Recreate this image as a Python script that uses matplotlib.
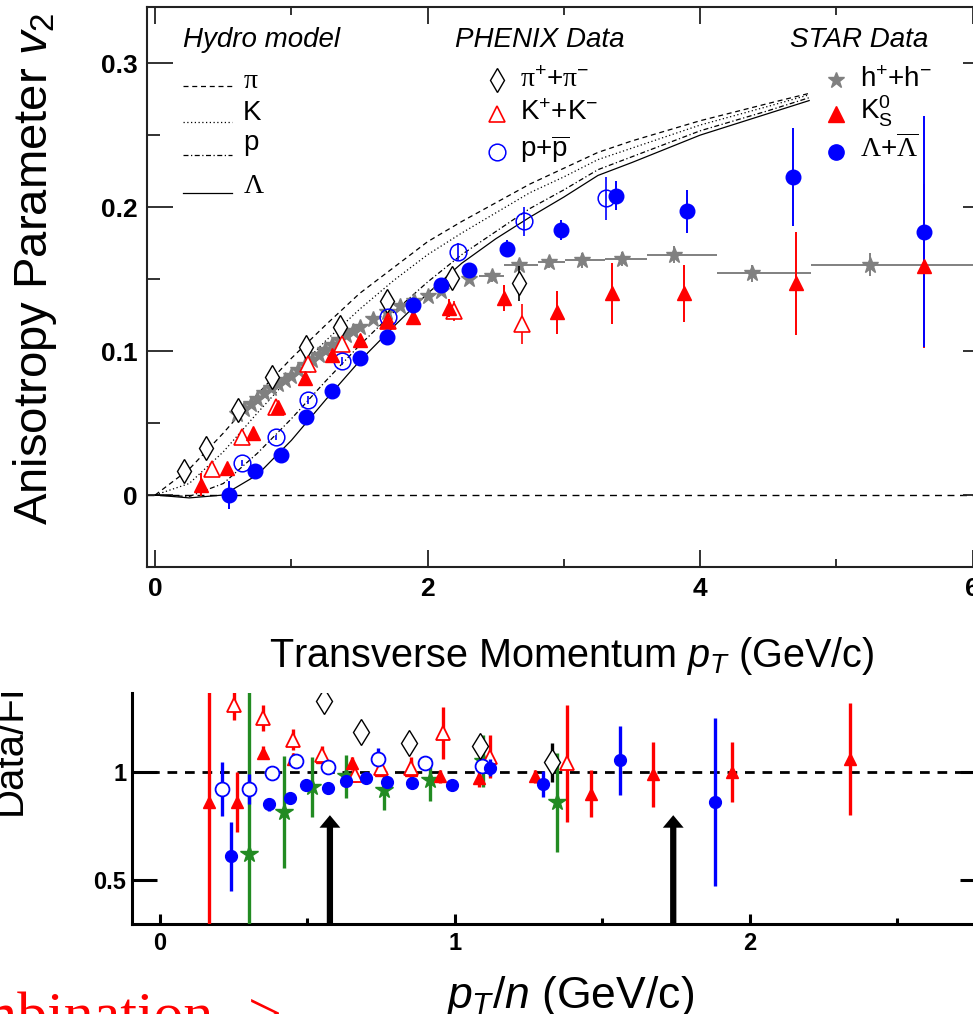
import matplotlib
matplotlib.use('Agg')
import matplotlib.pyplot as plt
from matplotlib.lines import Line2D
from matplotlib.ticker import MultipleLocator
from matplotlib.transforms import Bbox, TransformedBbox

plt.rcParams['font.family'] = ['Liberation Sans', 'DejaVu Sans']
plt.rcParams['mathtext.fontset'] = 'custom'
plt.rcParams['mathtext.rm'] = 'Liberation Sans'
plt.rcParams['mathtext.it'] = 'Liberation Sans:italic'
plt.rcParams['mathtext.bf'] = 'Liberation Sans:bold'
plt.rcParams['mathtext.sf'] = 'Liberation Serif'

# ---- hydro model curves (v2 vs pT)
hydro_pt  = [0, 0.25, 0.5, 0.75, 1.0, 1.25, 1.5, 1.75, 2.0, 2.25, 2.5, 2.75, 3.0, 3.25, 3.5, 4.0, 4.5, 4.8]
hydro_pi  = [0, 0.018, 0.043, 0.070, 0.095, 0.118, 0.140, 0.158, 0.176, 0.190, 0.203, 0.216, 0.227, 0.238, 0.246, 0.260, 0.272, 0.279]
hydro_k   = [0, 0.008, 0.030, 0.057, 0.083, 0.107, 0.129, 0.149, 0.167, 0.182, 0.196, 0.210, 0.221, 0.233, 0.241, 0.257, 0.270, 0.278]
hydro_p   = [0, -0.001, 0.008, 0.029, 0.053, 0.079, 0.104, 0.127, 0.148, 0.167, 0.183, 0.199, 0.212, 0.226, 0.235, 0.253, 0.267, 0.276]
hydro_lam = [0, -0.002, 0.0, 0.014, 0.038, 0.066, 0.093, 0.117, 0.140, 0.161, 0.178, 0.193, 0.207, 0.222, 0.231, 0.250, 0.265, 0.274]

# ---- PHENIX data
phx_pi_pt  = [0.21, 0.37, 0.61, 0.86, 1.11, 1.36, 1.70, 2.18, 2.67]
phx_pi_v2  = [0.017, 0.033, 0.059, 0.082, 0.103, 0.117, 0.135, 0.151, 0.147]
phx_pi_err = [0.002, 0.002, 0.002, 0.002, 0.003, 0.003, 0.003, 0.005, 0.012]

phx_k_pt  = [0.42, 0.64, 0.89, 1.12, 1.37, 1.71, 2.19, 2.69]
phx_k_v2  = [0.018, 0.040, 0.061, 0.091, 0.105, 0.121, 0.128, 0.119]
phx_k_err = [0.002, 0.002, 0.003, 0.003, 0.003, 0.004, 0.007, 0.014]

phx_p_pt  = [0.64, 0.89, 1.12, 1.37, 1.71, 2.22, 2.71, 3.31]
phx_p_v2  = [0.022, 0.040, 0.066, 0.093, 0.124, 0.169, 0.190, 0.206]
phx_p_err = [0.002, 0.002, 0.003, 0.003, 0.004, 0.006, 0.010, 0.015]

# ---- STAR data
star_h_pt  = [0.60, 0.65, 0.70, 0.75, 0.80, 0.85, 0.90, 0.95, 1.00, 1.05, 1.10, 1.15, 1.20, 1.25, 1.30,
              1.35, 1.40, 1.45, 1.50, 1.60, 1.70, 1.80, 1.90, 2.00, 2.10, 2.30]
star_h_v2  = [0.056, 0.060, 0.063, 0.067, 0.071, 0.074, 0.077, 0.080, 0.083, 0.087, 0.090, 0.094, 0.097, 0.101, 0.104,
              0.108, 0.111, 0.114, 0.117, 0.122, 0.127, 0.131, 0.135, 0.138, 0.142, 0.150]
star_hb_pt  = [2.47, 2.67, 2.89, 3.13, 3.43, 3.81, 4.38, 5.25]
star_hb_v2  = [0.152, 0.160, 0.162, 0.163, 0.164, 0.167, 0.154, 0.160]
star_hb_lo  = [2.38, 2.56, 2.81, 3.01, 3.30, 3.61, 4.12, 4.81]
star_hb_hi  = [2.56, 2.81, 3.01, 3.30, 3.61, 4.12, 4.81, 6.30]
star_hb_err = [0.004, 0.004, 0.004, 0.005, 0.005, 0.006, 0.006, 0.008]

star_k0_pt  = [0.34, 0.53, 0.72, 0.90, 1.10, 1.30, 1.50, 1.70, 1.89, 2.16, 2.56, 2.95, 3.35, 3.88, 4.70, 5.64]
star_k0_v2  = [0.007, 0.019, 0.043, 0.061, 0.081, 0.097, 0.108, 0.121, 0.124, 0.130, 0.137, 0.127, 0.140, 0.140, 0.147, 0.159]
star_k0_err = [0.008, 0.003, 0.003, 0.003, 0.003, 0.003, 0.003, 0.003, 0.004, 0.006, 0.009, 0.015, 0.021, 0.020, 0.036, 0.057]

star_lam_pt  = [0.54, 0.73, 0.92, 1.11, 1.30, 1.50, 1.70, 1.89, 2.10, 2.30, 2.58, 2.98, 3.38, 3.90, 4.68, 5.64]
star_lam_v2  = [0.000, 0.017, 0.028, 0.054, 0.072, 0.095, 0.110, 0.132, 0.146, 0.156, 0.171, 0.184, 0.208, 0.197, 0.221, 0.183]
star_lam_err = [0.010, 0.003, 0.003, 0.003, 0.003, 0.003, 0.003, 0.004, 0.004, 0.005, 0.006, 0.007, 0.010, 0.015, 0.034, 0.080]

# ---- Data/Fit vs pT/n (lower panel)
r_k0_x   = [0.166, 0.26, 0.35, 0.45, 0.55, 0.65, 0.75, 0.85, 0.95, 1.08, 1.27, 1.46, 1.67, 1.94, 2.34]
r_k0_y   = [0.86, 0.86, 1.09, 1.06, 1.07, 1.04, 1.01, 1.01, 0.98, 0.97, 0.98, 0.90, 0.99, 1.00, 1.06]
r_k0_err = [0.80, 0.14, 0.03, 0.03, 0.03, 0.03, 0.03, 0.04, 0.03, 0.04, 0.03, 0.11, 0.15, 0.14, 0.26]

r_k_x   = [0.25, 0.35, 0.45, 0.55, 0.66, 0.75, 0.85, 0.96, 1.12, 1.38]
r_k_y   = [1.31, 1.25, 1.15, 1.08, 0.985, 1.02, 1.02, 1.18, 1.07, 1.04]
r_k_err = [0.07, 0.06, 0.05, 0.04, 0.03, 0.04, 0.05, 0.12, 0.10, 0.27]

r_p_x   = [0.21, 0.30, 0.38, 0.46, 0.57, 0.74, 0.90, 1.09]
r_p_y   = [0.92, 0.92, 0.995, 1.05, 1.025, 1.06, 1.04, 1.03]
r_p_err = [0.125, 0.07, 0.02, 0.02, 0.02, 0.05, 0.03, 0.03]

r_lam_x   = [0.24, 0.37, 0.44, 0.495, 0.57, 0.63, 0.70, 0.77, 0.855, 0.99, 1.12, 1.30, 1.56, 1.88]
r_lam_y   = [0.61, 0.85, 0.88, 0.94, 0.925, 0.96, 0.97, 0.955, 0.95, 0.94, 1.02, 0.945, 1.055, 0.86]
r_lam_err = [0.16, 0.03, 0.02, 0.02, 0.02, 0.02, 0.02, 0.02, 0.02, 0.02, 0.04, 0.06, 0.16, 0.39]

r_pi_x   = [0.555, 0.68, 0.845, 1.085, 1.33]
r_pi_y   = [1.33, 1.185, 1.135, 1.12, 1.045]
r_pi_err = [0.0, 0.0, 0.0, 0.0, 0.09]

r_xi_x   = [0.30, 0.42, 0.515, 0.63, 0.76, 0.915, 1.095, 1.345]
r_xi_y   = [0.62, 0.815, 0.93, 0.98, 0.915, 0.965, 1.05, 0.86]
r_xi_err = [0.80, 0.26, 0.14, 0.10, 0.09, 0.10, 0.12, 0.23]

arrow_x = [0.576, 1.74]

RED = '#ff0000'
BLUE = '#0000ff'
GRAY = '#808080'
GREEN = '#228b22'

W, H = 973, 1014
def fx(x):
    return x / W
def fy(y):
    return 1 - y / H

fig = plt.figure(figsize=(W / 100, H / 100), dpi=100)

# ================= top panel
ax1 = fig.add_axes([fx(147), fy(567), (989 - 147) / W, (567 - 7) / H])
ax1.set_xlim(-0.06, 6.12)
ax1.set_ylim(-0.05, 0.339)

ax1.axhline(0, color='k', lw=1, dashes=(5, 4), zorder=1)
ax1.plot(hydro_pt, hydro_pi, color='k', lw=0.9, dashes=(4, 3))
ax1.plot(hydro_pt, hydro_k, color='k', lw=0.9, dashes=(1, 2))
ax1.plot(hydro_pt, hydro_p, color='k', lw=0.9, dashes=(4, 2, 1, 2))
ax1.plot(hydro_pt, hydro_lam, color='k', lw=0.9)

ax1.errorbar(star_h_pt, star_h_v2, fmt='*', ms=12, color=GRAY, mec=GRAY, zorder=3)
ax1.errorbar(star_hb_pt, star_hb_v2,
             xerr=[[c - l for c, l in zip(star_hb_pt, star_hb_lo)], [h - c for c, h in zip(star_hb_pt, star_hb_hi)]],
             yerr=star_hb_err, fmt='*', ms=12, color=GRAY, elinewidth=1.4, capsize=0, zorder=3)
ax1.errorbar(phx_pi_pt, phx_pi_v2, yerr=phx_pi_err, fmt='d', ms=12, mfc='white', mec='k', mew=1,
             ecolor='k', elinewidth=1.2, capsize=0, zorder=4)
ax1.errorbar(phx_k_pt, phx_k_v2, yerr=phx_k_err, fmt='^', ms=11, mfc='white', mec=RED, mew=1.2,
             ecolor=RED, elinewidth=1.2, capsize=0, zorder=4)
ax1.errorbar(phx_p_pt, phx_p_v2, yerr=phx_p_err, fmt='o', ms=12, mfc='none', mec=BLUE, mew=1.1,
             ecolor=BLUE, elinewidth=1.2, capsize=0, zorder=4)
ax1.errorbar(star_k0_pt, star_k0_v2, yerr=star_k0_err, fmt='^', ms=10, color=RED,
             elinewidth=1.4, capsize=0, zorder=5)
ax1.errorbar(star_lam_pt, star_lam_v2, yerr=star_lam_err, fmt='o', ms=10.5, color=BLUE,
             elinewidth=1.4, capsize=0, zorder=5)

ax1.set_xticks([0, 2, 4, 6])
ax1.xaxis.set_minor_locator(MultipleLocator(1))
ax1.set_yticks([0, 0.1, 0.2, 0.3])
ax1.set_yticklabels(['0', '0.1', '0.2', '0.3'])
ax1.yaxis.set_minor_locator(MultipleLocator(0.05))
ax1.tick_params(which='both', direction='in', top=True, right=True, width=1.3, color='#222222')
ax1.tick_params(axis='x', which='major', length=12, pad=7)
ax1.tick_params(axis='x', which='minor', length=6)
ax1.tick_params(axis='y', which='major', length=19, pad=7)
ax1.tick_params(axis='y', which='minor', length=9)
for lab in ax1.get_xticklabels() + ax1.get_yticklabels():
    lab.set_fontsize(19)
    lab.set_fontweight('bold')
for sp in ax1.spines.values():
    sp.set_linewidth(1.5)
    sp.set_color('#222222')

fig.text(fx(47), fy(269), 'Anisotropy Parameter $v_2$', rotation=90, rotation_mode='anchor',
         ha='center', va='baseline', fontsize=34)
fig.text(fx(572), fy(667), 'Transverse Momentum $p_T$ (GeV/c)', ha='center', va='baseline',
         fontsize=28.5)

# legend block
fig.text(fx(183), fy(47), 'Hydro model', style='italic', fontsize=20, va='baseline')
fig.text(fx(455), fy(47), 'PHENIX Data', style='italic', fontsize=20, va='baseline')
fig.text(fx(790), fy(47), 'STAR Data', style='italic', fontsize=20, va='baseline')

hydro_lab = [r'$\mathsf{\pi}$', 'K', 'p', r'$\mathsf{\Lambda}$']
hydro_dash = [(4, 3), (1, 2), (4, 2, 1, 2), None]
hydro_line_y = [86, 122, 155, 193]
hydro_text_y = [88, 120, 150, 193]
for lab, ds, ly, ty in zip(hydro_lab, hydro_dash, hydro_line_y, hydro_text_y):
    ln = Line2D([fx(183), fx(232)], [fy(ly), fy(ly)], color='k', lw=0.9)
    if ds is not None:
        ln.set_dashes(ds)
    fig.add_artist(ln)
    fig.text(fx(243), fy(ty), lab, fontsize=20, va='baseline')

phx_lab = [r'$\mathsf{\pi}^{+}{+}\mathsf{\pi}^{-}$', r'$\mathrm{K}^{+}{+}\mathrm{K}^{-}$', r'$\mathrm{p}{+}\overline{\mathrm{p}}$']
phx_mk = [dict(marker='d', ms=12, mfc='white', mec='k', mew=1),
          dict(marker='^', ms=12, mfc='white', mec=RED, mew=1.2),
          dict(marker='o', ms=12, mfc='white', mec=BLUE, mew=1.1)]
star_lab = [r'$\mathrm{h}^{+}{+}\mathrm{h}^{-}$', r'$\mathrm{K}^{0}_{\mathrm{S}}$',
            r'$\mathsf{\Lambda}{+}\overline{\mathsf{\Lambda}}$']
star_mk = [dict(marker='*', ms=12, mfc=GRAY, mec=GRAY),
           dict(marker='^', ms=11, mfc=RED, mec=RED),
           dict(marker='o', ms=11, mfc=BLUE, mec=BLUE)]
mk_y = [80, 114, 152]
txt_y = [87, 120, 157]
for i in range(3):
    fig.add_artist(Line2D([fx(497)], [fy(mk_y[i])], ls='none', **phx_mk[i]))
    fig.text(fx(520), fy(txt_y[i]), phx_lab[i], fontsize=20, va='baseline')
    fig.add_artist(Line2D([fx(836)], [fy(mk_y[i])], ls='none', **star_mk[i]))
    fig.text(fx(860), fy(txt_y[i]), star_lab[i], fontsize=20, va='baseline')

# ================= bottom panel
ax2 = fig.add_axes([fx(132), fy(924), (985 - 132) / W, (924 - 693) / H])
ax2.set_xlim(-0.095, 2.797)
ax2.set_ylim(0.2963, 1.3657)
ax2.axhline(1, color='k', lw=2, dashes=(3.5, 2.8), zorder=1)

ax2.errorbar(r_xi_x, r_xi_y, yerr=r_xi_err, fmt='*', ms=13, color=GREEN, elinewidth=2.4, capsize=0, zorder=3)
ax2.errorbar(r_k0_x, r_k0_y, yerr=r_k0_err, fmt='^', ms=8, color=RED, elinewidth=2.4, capsize=0, zorder=3)
ax2.errorbar(r_k_x, r_k_y, yerr=r_k_err, fmt='^', ms=10, mfc='white', mec=RED, mew=1.3,
             ecolor=RED, elinewidth=2.4, capsize=0, zorder=4)
ax2.errorbar(r_p_x, r_p_y, yerr=r_p_err, fmt='o', ms=10, mfc='white', mec=BLUE, mew=1.3,
             ecolor=BLUE, elinewidth=2.4, capsize=0, zorder=4)
ax2.errorbar(r_lam_x, r_lam_y, yerr=r_lam_err, fmt='o', ms=8.5, color=BLUE, elinewidth=2.4, capsize=0, zorder=5)
ax2.errorbar(r_pi_x, r_pi_y, yerr=r_pi_err, fmt='d', ms=13, mfc='white', mec='k', mew=1,
             ecolor='k', elinewidth=2.4, capsize=0, zorder=4)

for ax_x in arrow_x:
    ax2.annotate('', xy=(ax_x, 0.80), xytext=(ax_x, 0.2963),
                 arrowprops=dict(arrowstyle='simple,head_width=1.5,head_length=0.9,tail_width=0.45',
                                 mutation_scale=10, fc='k', ec='none', shrinkA=0, shrinkB=0))

ax2.set_xticks([0, 1, 2])
ax2.xaxis.set_minor_locator(MultipleLocator(0.5))
ax2.set_yticks([0.5, 1])
ax2.set_yticklabels(['0.5', '1'])
ax2.spines['top'].set_visible(False)
for sp in ['left', 'bottom', 'right']:
    ax2.spines[sp].set_linewidth(2.2)
ax2.tick_params(which='both', direction='in', right=True, width=2.2)
ax2.tick_params(axis='x', which='major', length=7, pad=6)
ax2.tick_params(axis='x', which='minor', length=4)
ax2.tick_params(axis='y', which='major', length=18, pad=4)
for lab in ax2.get_xticklabels() + ax2.get_yticklabels():
    lab.set_fontsize(17)
    lab.set_fontweight('bold')

fig.text(fx(570), fy(1008), '$p_T$/$n$ (GeV/c)', ha='center', va='baseline', fontsize=32)

# cut-off y label of the lower panel
yl = fig.text(fx(21), fy(815), 'Data/Fit', rotation=90, rotation_mode='anchor',
              ha='left', va='baseline', fontsize=29)
yl.set_clip_box(TransformedBbox(Bbox([[0, 0], [1, fy(693)]]), fig.transFigure))
yl.set_clip_on(True)

fig.text(fx(282), fy(1034), 'Recombination ->', ha='right', va='baseline', color='red',
         family='Liberation Serif', fontsize=43)

fig.savefig('out.png', dpi=100)
